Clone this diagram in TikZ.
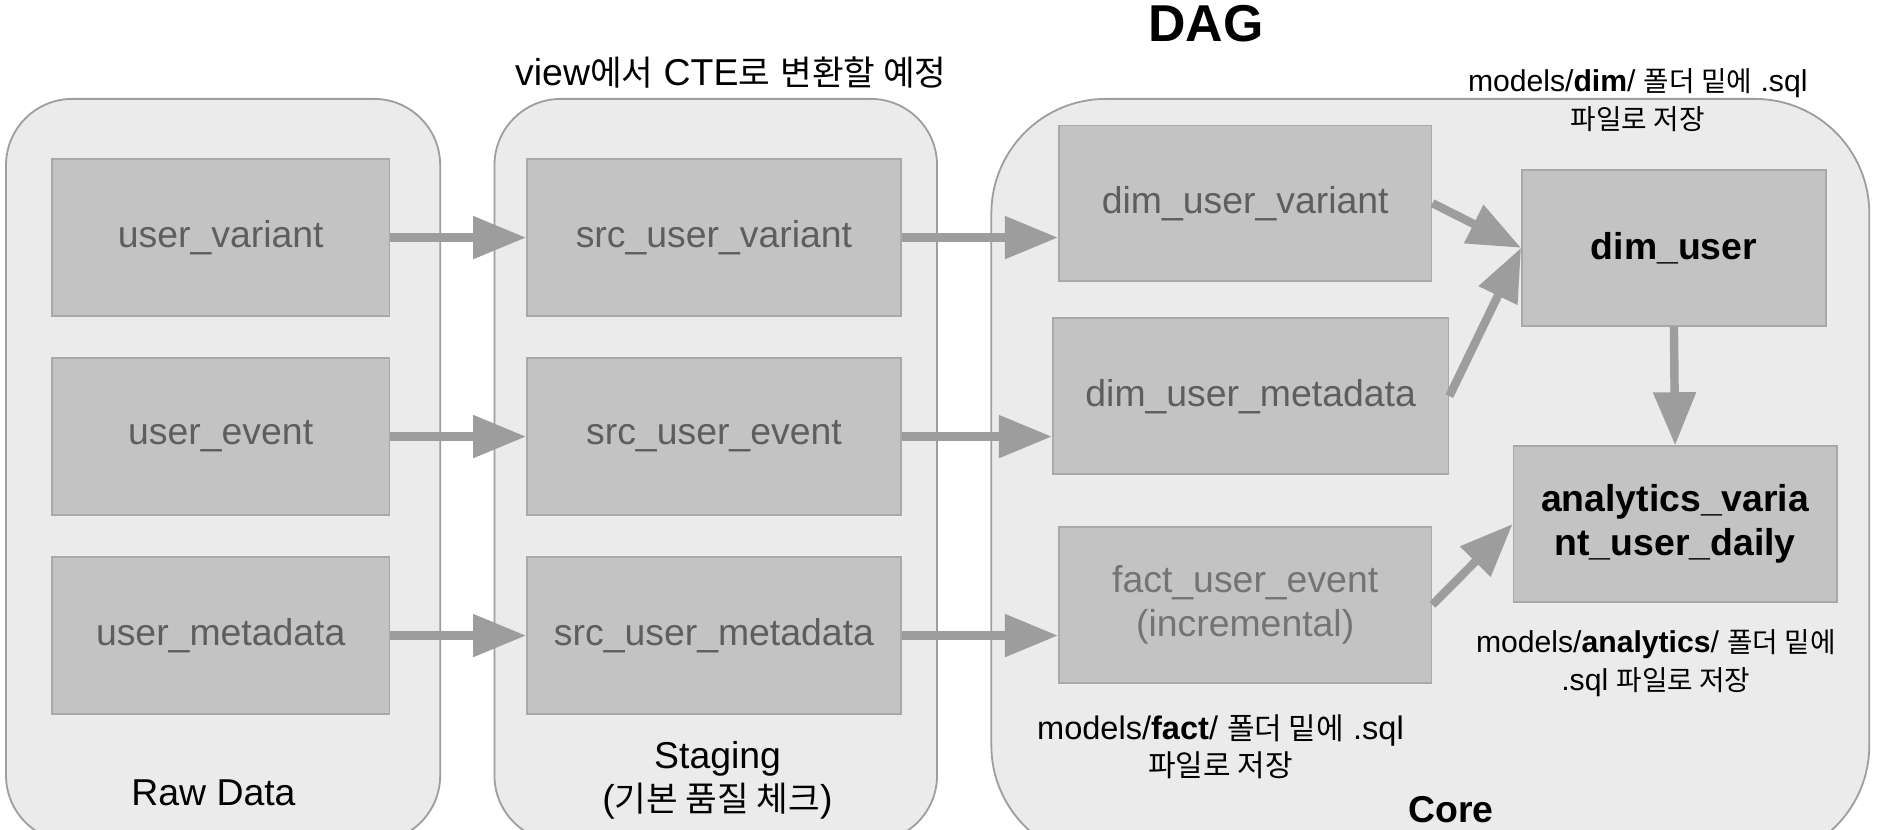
\documentclass[tikz,border=0pt]{standalone}
\usepackage{fontspec}
\setmainfont{Liberation Sans}
\newfontfamily\kr{Noto Sans CJK KR}[Scale=0.92]
\usetikzlibrary{arrows.meta}
\definecolor{contfill}{HTML}{EBEBEB}
\definecolor{contline}{HTML}{9E9E9E}
\definecolor{boxfill}{HTML}{C3C3C3}
\definecolor{boxline}{HTML}{A9A9A9}
\definecolor{labelgray}{HTML}{5E5E5E}
\definecolor{factgray}{HTML}{747474}
\definecolor{arrowgray}{HTML}{9D9D9D}
\begin{document}
\begin{tikzpicture}[x=1pt,y=-1pt,
  container/.style={draw=contline, fill=contfill, line width=1.5pt},
  box/.style={draw=boxline, fill=boxfill, line width=1.5pt, text=labelgray,
    font=\fontsize{31}{36}\selectfont, inner sep=0pt, align=center},
  boldbox/.style={box, text=black, font=\fontsize{31}{37}\selectfont\bfseries},
  flow/.style={draw=arrowgray, line width=7pt,
    -{Triangle[length=44pt,width=34pt]}},
  note/.style={text=black, font=\fontsize{25}{31}\selectfont, align=center, inner sep=0pt},
  layer/.style={text=black, font=\fontsize{31}{36}\selectfont, align=center, inner sep=0pt}]
\useasboundingbox[fill=white] (0,0) rectangle (1568,688);
\begin{scope}
\clip (0,0) rectangle (1568,688);
% containers
\draw[container, rounded corners=55pt] (5,82) rectangle (365,698);
\draw[container, rounded corners=55pt] (410,82) rectangle (777,698);
\draw[container, rounded corners=95pt] (822,82) rectangle (1550,713);
% boxes
\node[box, minimum width=280pt, minimum height=130pt] (rv) at (183,197) {user\_variant};
\node[box, minimum width=280pt, minimum height=130pt] (re) at (183,362) {user\_event};
\node[box, minimum width=280pt, minimum height=130pt] (rm) at (183,527) {user\_metadata};
\node[box, minimum width=310pt, minimum height=130pt] (sv) at (592,197) {src\_user\_variant};
\node[box, minimum width=310pt, minimum height=130pt] (se) at (592,362) {src\_user\_event};
\node[box, minimum width=310pt, minimum height=130pt] (sm) at (592,527) {src\_user\_metadata};
\node[box, minimum width=309pt, minimum height=129pt] (dv) at (1032.5,168.5) {dim\_user\_variant};
\node[box, minimum width=328pt, minimum height=129pt] (dm) at (1037,328.5) {dim\_user\_metadata};
\node[box, text=factgray, minimum width=309pt, minimum height=129pt] (fe) at (1032.5,501.5) {fact\_user\_event\\(incremental)};
\node[boldbox, minimum width=252pt, minimum height=129pt] (du) at (1388,205.5) {dim\_user};
\node[boldbox, minimum width=268pt, minimum height=129pt] (an) at (1389,434.5) {analytics\_varia\\nt\_user\_daily};
% arrows
\draw[flow] (rv.east) -- (sv.west);
\draw[flow] (re.east) -- (se.west);
\draw[flow] (rm.east) -- (sm.west);
\draw[flow] (sv.east) -- (sv.east -| dv.west);
\draw[flow] (se.east) -- (se.east -| dm.west);
\draw[flow] (sm.east) -- (sm.east -| fe.west);
\draw[flow] (dv.east) -- (du.west);
\draw[flow] (dm.east) -- (du.west);
\draw[flow] (du.south) -- (an.north);
\draw[flow] (fe.east) -- (an.west);
% texts
\node[text=black, font=\fontsize{43}{43}\selectfont\bfseries, inner sep=0pt] (dag) at (1000,20) {DAG};
\node[note, font=\fontsize{31}{36}\selectfont] (viewnote) at (606,60) {view{\kr 에서} CTE{\kr 로} {\kr 변환할 예정}};
\node[note] (dimnote) at (1358,83) {models/\textbf{dim}/ {\kr 폴더 밑에} .sql\\{\kr 파일로 저장}};
\node[layer] (rawlbl) at (177,657) {Raw Data};
\node[layer] (stglbl) at (595,647) {Staging\\({\kr 기본 품질 체크})};
\node[note, font=\fontsize{27}{31}\selectfont] (factnote) at (1012,619) {models/\textbf{fact}/ {\kr 폴더 밑에} .sql\\{\kr 파일로 저장}};
\node[note, font=\fontsize{25}{31}\selectfont] (annote) at (1373,550) {models/\textbf{analytics}/ {\kr 폴더 밑에}\\.sql {\kr 파일로 저장}};
\node[layer, font=\fontsize{31}{36}\selectfont\bfseries] (corelbl) at (1203,671) {Core};
\end{scope}
\end{tikzpicture}
\end{document}
